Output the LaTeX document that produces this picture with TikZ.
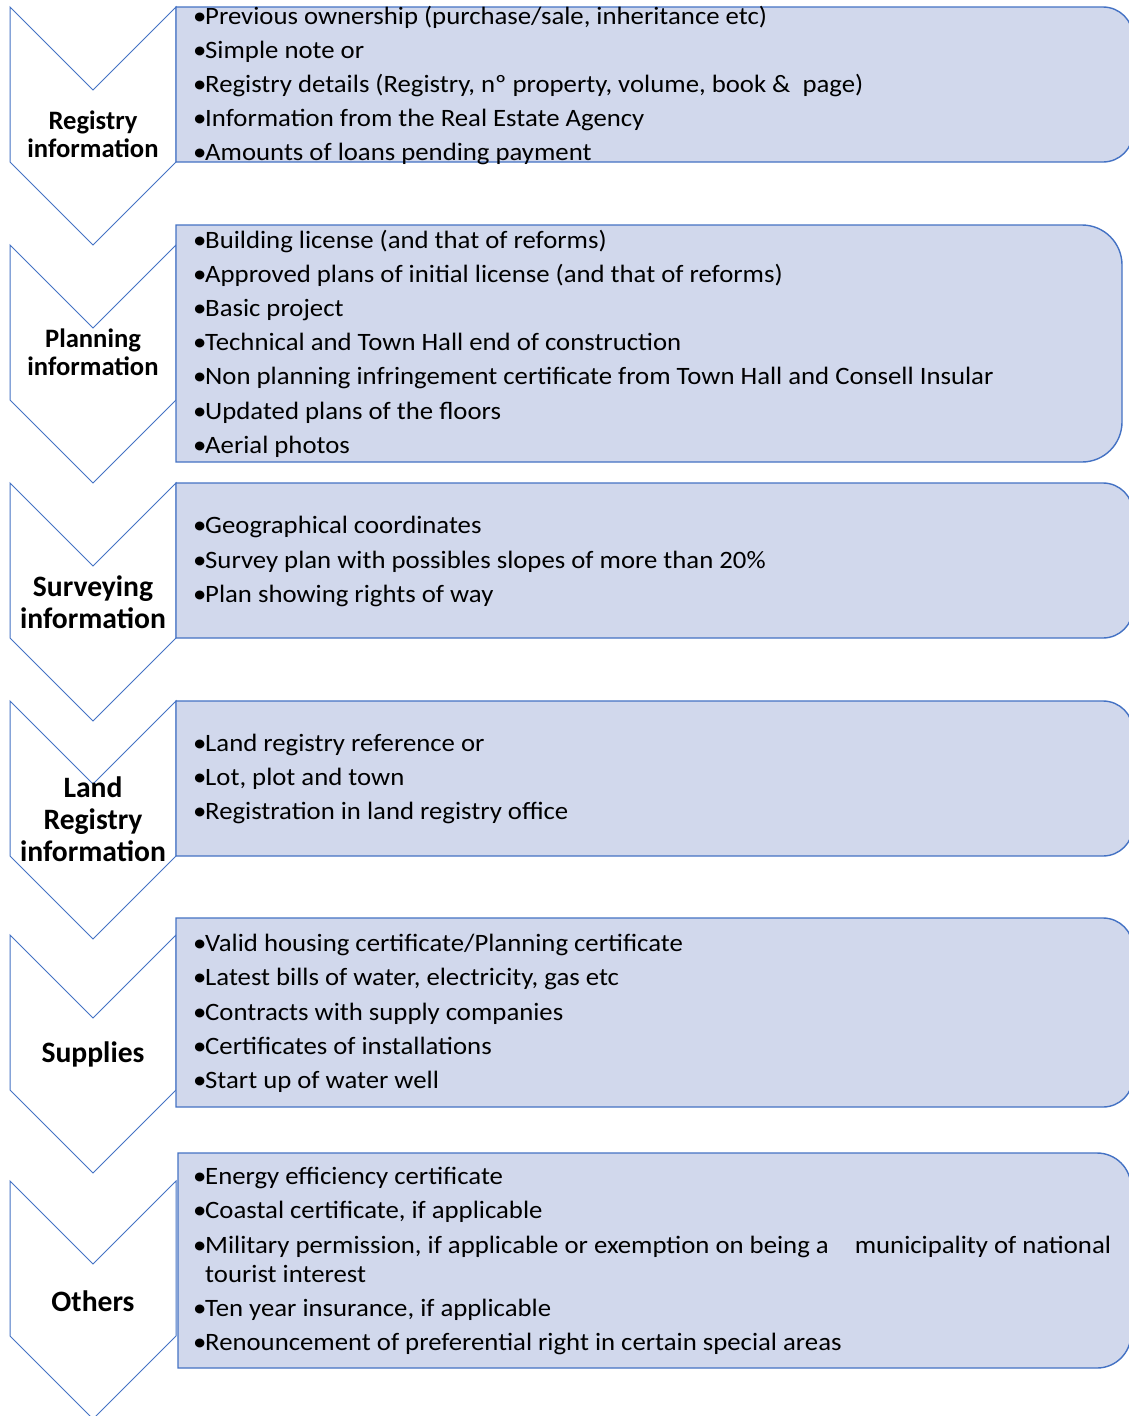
\documentclass[tikz,border=0pt]{standalone}
\usepackage{fontspec}
\setmainfont{Carlito}
\newfontfamily\bodyfont[FakeStretch=1.07]{Carlito}
\definecolor{edge}{HTML}{4472C4}
\definecolor{boxfill}{HTML}{D1D8EC}
\newcommand\bitem[3]{\node[itemtext] (#1) at (193,#2) {\makebox[12pt][l]{\textbullet}#3};}
\newcommand\chev[1]{%
  \draw[chevline] (10,#1) -- (93,#1+83) -- (176,#1) -- (176,#1+155) -- (93,#1+238) -- (10,#1+155) -- cycle;}
\newcommand\rbox[5]{% x1 y1 x2 y2 r
  \draw[boxline] (#1,#2) -- ({#3-#5},#2) .. controls ({#3-0.448*#5},#2) and (#3,{#2+0.448*#5}) .. (#3,{#2+#5})
     -- (#3,{#4-#5}) .. controls (#3,{#4-0.448*#5}) and ({#3-0.448*#5},#4) .. ({#3-#5},#4) -- (#1,#4) -- cycle;}
\tikzset{
  chevline/.style={draw=edge, line width=1pt, line join=miter},
  boxline/.style={draw=edge, fill=boxfill, line width=1.4pt},
  itemtext/.style={anchor=base west, inner sep=0pt, font=\bodyfont\fontsize{25}{28}\selectfont},
  lab/.style={align=center, inner sep=0pt, font=\bfseries\fontsize{26.6}{28}\selectfont},
  labbig/.style={align=center, inner sep=0pt, font=\bfseries\fontsize{29.6}{32}\selectfont},
}
\begin{document}
\begin{tikzpicture}[x=1pt,y=-1pt]
\useasboundingbox (0,0) rectangle (1129,1416);
\fill[white] (0,0) rectangle (1129,1416);
% chevrons
\chev{7}
\chev{245}
\chev{483}
\chev{701}
\chev{935}
\chev{1181}
% boxes
\rbox{176}{7}{1133}{162}{30}
\rbox{176}{225}{1122}{462}{40}
\rbox{176}{483}{1133}{638}{30}
\rbox{176}{701}{1133}{856}{30}
\rbox{176}{918}{1133}{1107}{30}
\rbox{178}{1153}{1131}{1368}{34}
% labels
\node[lab] (l1) at (93,134) {Registry\\information};
\node[lab] (l2) at (93,352) {Planning\\information};
\node[labbig] (l3) at (93,602) {Surveying\\information};
\node[labbig] (l4) at (93,819) {Land\\Registry\\information};
\node[labbig] (l5) at (93,1054) {Supplies};
\node[labbig] (l6) at (93,1301) {Others};
% box 1
\bitem{a1}{24}{Previous ownership (purchase/sale, inheritance etc)}
\bitem{a2}{58}{Simple note or}
\bitem{a3}{92}{Registry details (Registry, nº property, volume, book \&\ \ page)}
\bitem{a4}{126}{Information from the Real Estate Agency}
\bitem{a5}{160}{Amounts of loans pending payment}
% box 2
\bitem{b1}{248}{Building license (and that of reforms)}
\bitem{b2}{282}{Approved plans of initial license (and that of reforms)}
\bitem{b3}{316}{Basic project}
\bitem{b4}{350}{Technical and Town Hall end of construction}
\bitem{b5}{384}{Non planning infringement certificate from Town Hall and Consell Insular}
\bitem{b6}{419}{Updated plans of the floors}
\bitem{b7}{453}{Aerial photos}
% box 3
\bitem{c1}{533}{Geographical coordinates}
\bitem{c2}{568}{Survey plan with possibles slopes of more than 20\%}
\bitem{c3}{602}{Plan showing rights of way}
% box 4
\bitem{d1}{751}{Land registry reference or}
\bitem{d2}{785}{Lot, plot and town}
\bitem{d3}{819}{Registration in land registry office}
% box 5
\bitem{e1}{951}{Valid housing certificate/Planning certificate}
\bitem{e2}{985}{Latest bills of water, electricity, gas etc}
\bitem{e3}{1020}{Contracts with supply companies}
\bitem{e4}{1054}{Certificates of installations}
\bitem{e5}{1088}{Start up of water well}
% box 6
\bitem{f1}{1184}{Energy efficiency certificate}
\bitem{f2}{1218}{Coastal certificate, if applicable}
\bitem{f3}{1253}{Military permission, if applicable or exemption on being a\hspace{20pt} municipality of national}
\node[itemtext] (f3b) at (205,1282) {tourist interest};
\bitem{f4}{1316}{Ten year insurance, if applicable}
\bitem{f5}{1350}{Renouncement of preferential right in certain special areas}
\end{tikzpicture}
\end{document}
